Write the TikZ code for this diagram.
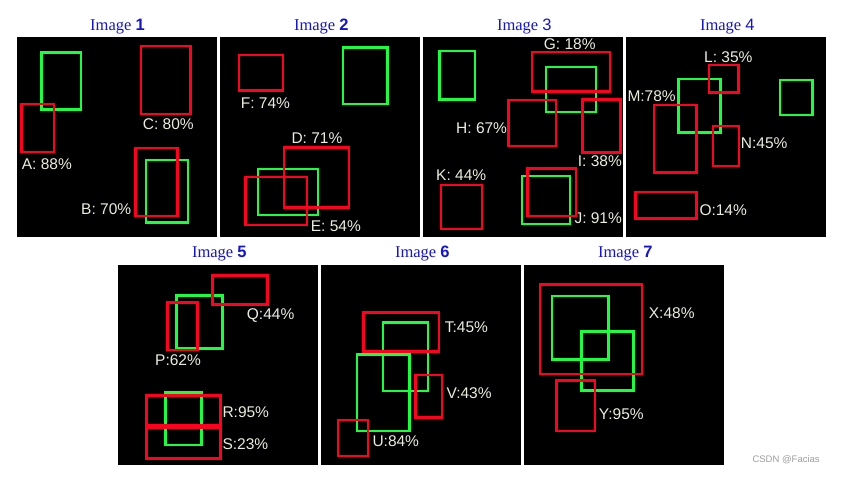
\documentclass[tikz,border=0pt]{standalone}
\usepackage{fontspec}
\usepackage{xcolor}
\usepackage{tikz}
\newfontfamily\lblfont{Liberation Sans}
\newfontfamily\ttlfont{Liberation Serif}
\definecolor{boxred}{RGB}{255,0,30}
\definecolor{boxgreen}{RGB}{25,255,60}
\definecolor{lbltext}{RGB}{236,236,222}
\definecolor{ttlblue}{RGB}{22,22,200}

\begin{document}
\begin{tikzpicture}[x=1pt, y=-1pt,
  panel/.style={fill=black, draw=none},
  redbox/.style={draw=boxred, line width=2.5pt},
  greenbox/.style={draw=boxgreen, line width=2.5pt},
  lbl/.style={text=lbltext, font=\lblfont\fontsize{15.5}{17}\selectfont,
              anchor=west, inner sep=0pt},
  ttl/.style={text=ttlblue, font=\ttlfont\fontsize{16.5}{19}\selectfont, inner sep=0pt}]
\useasboundingbox[fill=white] (0,0) rectangle (845,481);
% --- panels ---
\fill[panel] (17,37)  rectangle (217,237);
\fill[panel] (220,37) rectangle (420,237);
\fill[panel] (423,37) rectangle (623,237);
\fill[panel] (626,37) rectangle (826,237);
\fill[panel] (118,265) rectangle (318,465);
\fill[panel] (321,265) rectangle (521,465);
\fill[panel] (524,265) rectangle (724,465);
% --- titles ---
\node[ttl] (t1) at (117.5,26.7) {Image {\lblfont\bfseries 1}};
\node[ttl] (t2) at (321.3,26.7) {Image {\lblfont\bfseries 2}};
\node[ttl] (t3) at (524.3,26.7) {Image {\lblfont 3}};
\node[ttl] (t4) at (727.3,26.7) {Image {\lblfont 4}};
\node[ttl] (t5) at (219.3,254)  {Image {\lblfont\bfseries 5}};
\node[ttl] (t6) at (422.3,254)  {Image {\lblfont\bfseries 6}};
\node[ttl] (t7) at (625.3,254)  {Image {\lblfont\bfseries 7}};
% --- image 1 ---
\draw[greenbox] (41.7,52.7) rectangle (81,109.3);
\draw[redbox]   (21.7,104) rectangle (54,152);
\draw[redbox]   (141,46) rectangle (190.7,114);
\draw[greenbox] (146,160) rectangle (188,222.3);
\draw[redbox]   (135.7,148) rectangle (177.3,216);
\node[lbl] (lA) at (21.7,164)  {A: 88\%};
\node[lbl] (lC) at (142.7,124.3) {C: 80\%};
\node[lbl] (lB) at (81,209.3)  {B: 70\%};
% --- image 2 ---
\draw[redbox]   (239,55) rectangle (283,90.7);
\draw[greenbox] (343,47.7) rectangle (387.3,104);
\draw[greenbox] (258,169) rectangle (318,215);
\draw[redbox]   (284,147.7) rectangle (349,207.3);
\draw[redbox]   (245.3,177) rectangle (307,225);
\node[lbl] (lF) at (240.7,102.7) {F: 74\%};
\node[lbl] (lD) at (291.3,137.7) {D: 71\%};
\node[lbl] (lE) at (310.7,226)   {E: 54\%};
% --- image 3 ---
\draw[greenbox] (439.3,51) rectangle (475,99.3);
\draw[greenbox] (546,67) rectangle (596,112);
\draw[redbox]   (532,52) rectangle (610,91.7);
\draw[redbox]   (508.7,100) rectangle (556,146);
\draw[redbox]   (582.7,99.3) rectangle (620.3,152.3);
\draw[redbox]   (441,185) rectangle (482,229);
\draw[greenbox] (522,176) rectangle (570,224);
\draw[redbox]   (527.7,168.3) rectangle (576,216);
\node[lbl] (lG) at (543.7,44.3)  {G: 18\%};
\node[lbl] (lH) at (456,128.3)   {H: 67\%};
\node[lbl] (lI) at (577.7,160.7) {I: 38\%};
\node[lbl] (lK) at (436,175)     {K: 44\%};
\node[lbl] (lJ) at (574.3,217.7) {J: 91\%};
% --- image 4 ---
\draw[greenbox] (678.3,79) rectangle (720.7,132.3);
\draw[greenbox] (780,80) rectangle (812.3,115);
\draw[redbox]   (709,65) rectangle (738.3,92.3);
\draw[redbox]   (654,105) rectangle (696.7,172.7);
\draw[redbox]   (713,126) rectangle (739,166);
\draw[redbox]   (635.7,192) rectangle (696.7,218.7);
\node[lbl] (lL) at (704,56.7)    {L: 35\%};
\node[lbl] (lM) at (627.3,96)    {M:78\%};
\node[lbl] (lN) at (740.7,143.3) {N:45\%};
\node[lbl] (lO) at (699.3,210)   {O:14\%};
% --- image 5 ---
\draw[greenbox] (176.7,295.7) rectangle (222.3,348.3);
\draw[redbox]   (212.7,275.7) rectangle (267.3,304.3);
\draw[redbox]   (167.7,302.3) rectangle (197.3,350);
\draw[greenbox] (165.7,392.7) rectangle (201.7,445);
\draw[redbox]   (146.7,395.7) rectangle (220.7,425.7);
\draw[redbox]   (146.7,427.7) rectangle (220.7,458.3);
\node[lbl] (lQ) at (246.7,315.7) {Q:44\%};
\node[lbl] (lP) at (155,360)     {P:62\%};
\node[lbl] (lR) at (222.3,412.3) {R:95\%};
\node[lbl] (lS) at (222.3,444)   {S:23\%};
% --- image 6 ---
\draw[greenbox] (383,322.7) rectangle (428,391);
\draw[greenbox] (357,354.3) rectangle (409.7,431);
\draw[redbox]   (363.7,312.7) rectangle (439,351.7);
\draw[redbox]   (415.7,375) rectangle (442,417.3);
\draw[redbox]   (338,420) rectangle (368,456);
\node[lbl] (lT) at (444.7,327.3) {T:45\%};
\node[lbl] (lV) at (446.3,392.7) {V:43\%};
\node[lbl] (lU) at (372.3,441)   {U:84\%};
% --- image 7 ---
\draw[greenbox] (552,296) rectangle (608.3,359.3);
\draw[greenbox] (581.7,331.7) rectangle (633.3,390.7);
\draw[redbox]   (540,284.3) rectangle (642,374);
\draw[redbox]   (556.7,380.7) rectangle (595,431);
\node[lbl] (lX) at (648.7,313.3) {X:48\%};
\node[lbl] (lY) at (598.7,414)   {Y:95\%};
% --- watermark ---
\node[text=black!38, font=\lblfont\fontsize{9.5}{10}\selectfont, anchor=west, inner sep=0pt]
  (wm) at (752.3,459.3) {CSDN @Facias};
\end{tikzpicture}
\end{document}
